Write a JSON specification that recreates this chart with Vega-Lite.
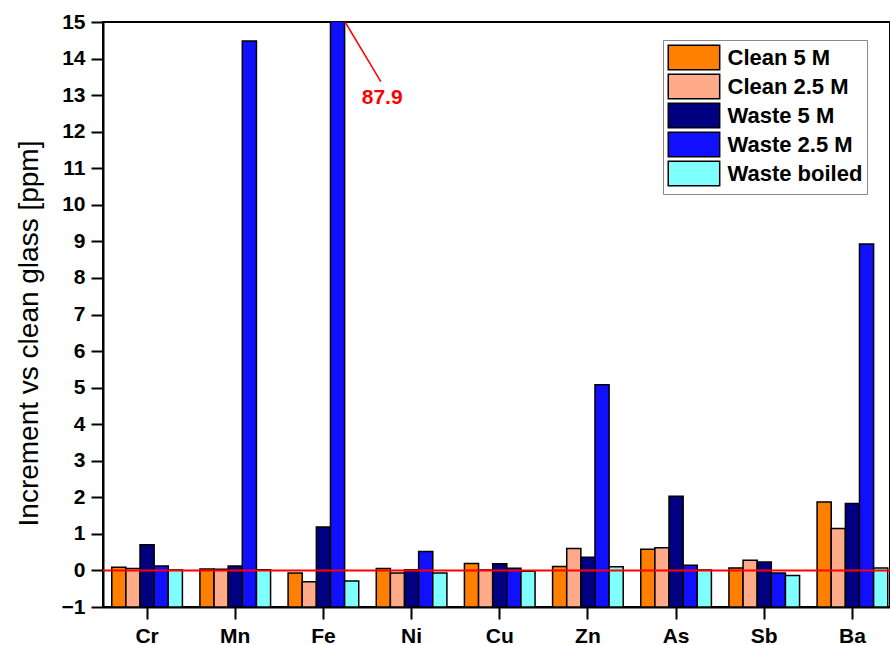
{
  "$schema": "https://vega.github.io/schema/vega-lite/v6.json",
  "autosize": "none",
  "width": 787,
  "height": 585,
  "padding": {"left": 103, "top": 22, "right": 0, "bottom": 38},
  "background": "white",
  "config": {
    "font": "Liberation Sans",
    "view": {"stroke": "black", "strokeWidth": 2},
    "axis": {
      "grid": false,
      "domainColor": "black",
      "domainWidth": 2,
      "tickColor": "black",
      "tickWidth": 2,
      "tickSize": 12,
      "labelFont": "Liberation Sans",
      "labelFontSize": 21,
      "labelFontWeight": "bold",
      "labelColor": "black",
      "labelPadding": 6,
      "labelOverlap": false
    },
    "legend": {
      "title": null,
      "symbolType": "M-1,-1H3.2V1H-1Z",
      "symbolSize": 600,
      "symbolStrokeColor": "black",
      "symbolStrokeWidth": 1.5,
      "symbolOpacity": 1,
      "labelFont": "Liberation Sans",
      "labelFontSize": 22,
      "labelFontWeight": "bold",
      "labelColor": "black",
      "labelOffset": 34,
      "rowPadding": -5.6,
      "padding": 4.5,
      "strokeColor": "#888888",
      "fillColor": "white"
    }
  },
  "datasets": {
    "bars": [
      {"element": "Cr", "series": "Clean 5 M", "value": 0.09},
      {"element": "Cr", "series": "Clean 2.5 M", "value": 0.05},
      {"element": "Cr", "series": "Waste 5 M", "value": 0.70},
      {"element": "Cr", "series": "Waste 2.5 M", "value": 0.12},
      {"element": "Cr", "series": "Waste boiled", "value": 0.01},
      {"element": "Mn", "series": "Clean 5 M", "value": 0.04},
      {"element": "Mn", "series": "Clean 2.5 M", "value": 0.03},
      {"element": "Mn", "series": "Waste 5 M", "value": 0.12},
      {"element": "Mn", "series": "Waste 2.5 M", "value": 14.48},
      {"element": "Mn", "series": "Waste boiled", "value": 0.02},
      {"element": "Fe", "series": "Clean 5 M", "value": -0.07},
      {"element": "Fe", "series": "Clean 2.5 M", "value": -0.31},
      {"element": "Fe", "series": "Waste 5 M", "value": 1.19},
      {"element": "Fe", "series": "Waste 2.5 M", "value": 87.9},
      {"element": "Fe", "series": "Waste boiled", "value": -0.29},
      {"element": "Ni", "series": "Clean 5 M", "value": 0.05},
      {"element": "Ni", "series": "Clean 2.5 M", "value": -0.07},
      {"element": "Ni", "series": "Waste 5 M", "value": 0.02},
      {"element": "Ni", "series": "Waste 2.5 M", "value": 0.52},
      {"element": "Ni", "series": "Waste boiled", "value": -0.07},
      {"element": "Cu", "series": "Clean 5 M", "value": 0.19},
      {"element": "Cu", "series": "Clean 2.5 M", "value": 0.01},
      {"element": "Cu", "series": "Waste 5 M", "value": 0.18},
      {"element": "Cu", "series": "Waste 2.5 M", "value": 0.06},
      {"element": "Cu", "series": "Waste boiled", "value": -0.02},
      {"element": "Zn", "series": "Clean 5 M", "value": 0.11},
      {"element": "Zn", "series": "Clean 2.5 M", "value": 0.60},
      {"element": "Zn", "series": "Waste 5 M", "value": 0.36},
      {"element": "Zn", "series": "Waste 2.5 M", "value": 5.08},
      {"element": "Zn", "series": "Waste boiled", "value": 0.10},
      {"element": "As", "series": "Clean 5 M", "value": 0.58},
      {"element": "As", "series": "Clean 2.5 M", "value": 0.62},
      {"element": "As", "series": "Waste 5 M", "value": 2.03},
      {"element": "As", "series": "Waste 2.5 M", "value": 0.14},
      {"element": "As", "series": "Waste boiled", "value": 0.01},
      {"element": "Sb", "series": "Clean 5 M", "value": 0.07},
      {"element": "Sb", "series": "Clean 2.5 M", "value": 0.28},
      {"element": "Sb", "series": "Waste 5 M", "value": 0.23},
      {"element": "Sb", "series": "Waste 2.5 M", "value": -0.07},
      {"element": "Sb", "series": "Waste boiled", "value": -0.14},
      {"element": "Ba", "series": "Clean 5 M", "value": 1.87},
      {"element": "Ba", "series": "Clean 2.5 M", "value": 1.15},
      {"element": "Ba", "series": "Waste 5 M", "value": 1.83},
      {"element": "Ba", "series": "Waste 2.5 M", "value": 8.93},
      {"element": "Ba", "series": "Waste boiled", "value": 0.07}
    ],
    "note": [
      {"element": "Fe", "label": "87.9"}
    ]
  },
  "layer": [
    {
      "data": {"name": "bars"},
      "mark": {"type": "bar", "clip": true, "stroke": "black", "strokeWidth": 1.5},
      "encoding": {
        "x": {
          "field": "element", "type": "nominal",
          "sort": ["Cr", "Mn", "Fe", "Ni", "Cu", "Zn", "As", "Sb", "Ba"],
          "scale": {"paddingInner": 0, "paddingOuter": 0, "range": [0, 793.5]},
          "axis": {"title": null, "labelAngle": 0}
        },
        "xOffset": {
          "field": "series", "type": "nominal",
          "sort": ["Clean 5 M", "Clean 2.5 M", "Waste 5 M", "Waste 2.5 M", "Waste boiled"],
          "scale": {"paddingOuter": 0.62, "paddingInner": 0}
        },
        "y": {
          "field": "value", "type": "quantitative",
          "scale": {"domain": [-1, 15], "zero": false, "nice": false},
          "axis": {
            "values": [-1, 0, 1, 2, 3, 4, 5, 6, 7, 8, 9, 10, 11, 12, 13, 14, 15],
            "tickCount": 20,
            "labelOverlap": false,
            "title": "Increment vs clean glass [ppm]",
            "titleFont": "Liberation Sans",
            "titleFontSize": 28,
            "titleFontWeight": "normal",
            "titleColor": "black",
            "titleAngle": -90,
            "titleBaseline": "alphabetic",
            "titleAlign": "center",
            "titleX": -66,
            "titleY": 311
          }
        },
        "y2": {"datum": -1},
        "color": {
          "field": "series", "type": "nominal",
          "sort": ["Clean 5 M", "Clean 2.5 M", "Waste 5 M", "Waste 2.5 M", "Waste boiled"],
          "scale": {
            "domain": ["Clean 5 M", "Clean 2.5 M", "Waste 5 M", "Waste 2.5 M", "Waste boiled"],
            "range": ["#FF8000", "#FFAA88", "#000080", "#1010FF", "#80FFFF"]
          },
          "legend": {"orient": "none", "legendX": 560, "legendY": 18}
        }
      }
    },
    {
      "data": {"values": [{}]},
      "mark": {"type": "rule", "color": "#FF0000", "strokeWidth": 2},
      "encoding": {"y": {"datum": 0}}
    },
    {
      "data": {"name": "note"},
      "mark": {"type": "rule", "color": "#FF0000", "strokeWidth": 1.5},
      "encoding": {
        "x": {"field": "element", "type": "nominal", "sort": ["Cr", "Mn", "Fe", "Ni", "Cu", "Zn", "As", "Sb", "Ba"], "bandPosition": 0.746},
        "x2": {"field": "element", "bandPosition": 1.151},
        "y": {"datum": 15},
        "y2": {"datum": 13.37}
      }
    },
    {
      "data": {"name": "note"},
      "mark": {"type": "text", "color": "#FF0000", "fontSize": 21, "fontWeight": "bold", "font": "Liberation Sans", "align": "center", "baseline": "alphabetic"},
      "encoding": {
        "x": {"field": "element", "type": "nominal", "sort": ["Cr", "Mn", "Fe", "Ni", "Cu", "Zn", "As", "Sb", "Ba"], "bandPosition": 1.166},
        "y": {"datum": 12.76},
        "text": {"field": "label"}
      }
    }
  ]
}
